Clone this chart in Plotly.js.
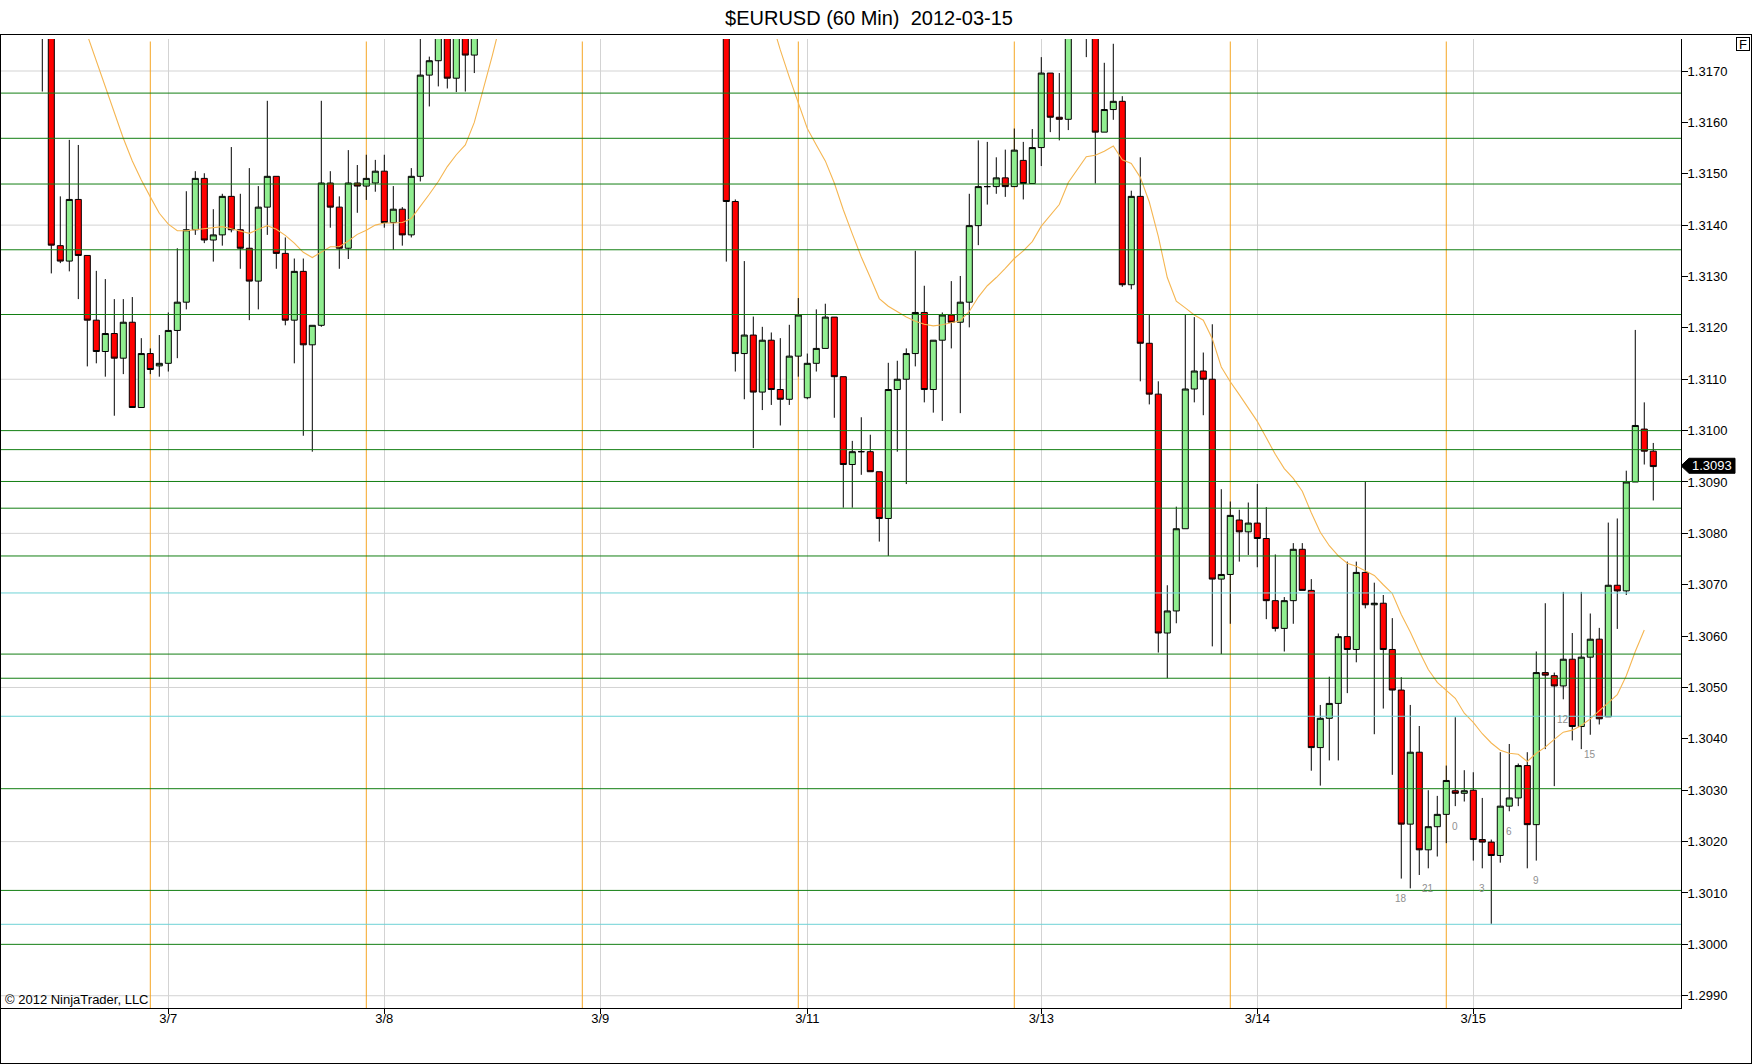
<!DOCTYPE html>
<html>
<head>
<meta charset="utf-8">
<script src="https://cdn.plot.ly/plotly-3.0.1.min.js"></script>
<style>
html,body{margin:0;padding:0;background:#ffffff;}
#chart{width:1752px;height:1064px;}
</style>
</head>
<body>
<div id="chart"></div>
<script>
// ---------------- DATA ----------------
const seg1Start = -14;   // bar slot of first candle of first block
const open1  = [1.31800,1.31795,1.31360,1.31330,1.31450,1.31341,1.31215,1.31154,1.31189,1.31141,1.31211,1.31045,1.31150,1.31126,1.31131,1.31195,1.31250,1.31391,1.31491,1.31371,1.31381,1.31456,1.31391,1.31355,1.31291,1.31435,1.31495,1.31345,1.31215,1.31310,1.31167,1.31205,1.31482,1.31435,1.31355,1.31482,1.31476,1.31482,1.31505,1.31405,1.31431,1.31381,1.31495,1.31692,1.31720,1.31790,1.31686,1.31785,1.31731];
const high1  = [1.31830,1.31810,1.31456,1.31566,1.31556,1.31341,1.31311,1.31295,1.31256,1.31256,1.31260,1.31180,1.31160,1.31186,1.31230,1.31355,1.31466,1.31505,1.31501,1.31431,1.31461,1.31552,1.31461,1.31511,1.31476,1.31642,1.31495,1.31376,1.31335,1.31335,1.31205,1.31642,1.31505,1.31456,1.31546,1.31517,1.31537,1.31527,1.31537,1.31476,1.31435,1.31511,1.31790,1.31728,1.31820,1.31820,1.31810,1.31810,1.31800];
const low1   = [1.31660,1.31306,1.31326,1.31310,1.31256,1.31125,1.31131,1.31105,1.31029,1.31110,1.31045,1.31045,1.31110,1.31105,1.31115,1.31141,1.31236,1.31381,1.31365,1.31329,1.31360,1.31386,1.31315,1.31215,1.31236,1.31381,1.31315,1.31205,1.31131,1.30990,1.30959,1.31202,1.31395,1.31315,1.31334,1.31424,1.31449,1.31465,1.31395,1.31352,1.31360,1.31376,1.31485,1.31631,1.31670,1.31666,1.31659,1.31660,1.31696];
const close1 = [1.31795,1.31361,1.31330,1.31450,1.31341,1.31215,1.31154,1.31189,1.31141,1.31211,1.31045,1.31150,1.31119,1.31131,1.31195,1.31250,1.31391,1.31491,1.31371,1.31381,1.31456,1.31391,1.31355,1.31291,1.31435,1.31495,1.31345,1.31215,1.31310,1.31167,1.31205,1.31482,1.31435,1.31355,1.31482,1.31476,1.31491,1.31505,1.31405,1.31431,1.31381,1.31495,1.31692,1.31720,1.31790,1.31686,1.31785,1.31731,1.31775];

const seg2Start = 62;    // bar slot of first candle of second block
const open2  = [1.31800,1.31446,1.31150,1.31186,1.31075,1.31176,1.31080,1.31061,1.31145,1.31064,1.31131,1.31160,1.31221,1.31105,1.30934,1.30959,1.30959,1.30920,1.30829,1.31080,1.31100,1.31150,1.31230,1.31080,1.31176,1.31225,1.31211,1.31250,1.31399,1.31475,1.31475,1.31492,1.31475,1.31526,1.31481,1.31551,1.31696,1.31610,1.31606,1.31780,1.31780,1.31790,1.31581,1.31625,1.31641,1.31284,1.31456,1.31170,1.31071,1.30606,1.30649,1.30809,1.31081,1.31116,1.31100,1.30711,1.30720,1.30826,1.30803,1.30820,1.30790,1.30669,1.30615,1.30669,1.30769,1.30689,1.30383,1.30440,1.30469,1.30599,1.30574,1.30724,1.30661,1.30664,1.30574,1.30495,1.30234,1.30374,1.30184,1.30229,1.30253,1.30299,1.30294,1.30300,1.30204,1.30199,1.30173,1.30269,1.30285,1.30348,1.30233,1.30529,1.30523,1.30503,1.30555,1.30424,1.30559,1.30594,1.30443,1.30699,1.30688,1.30900,1.31003,1.30960];
const high2  = [1.31820,1.31450,1.31330,1.31222,1.31202,1.31191,1.31180,1.31206,1.31258,1.31150,1.31236,1.31247,1.31221,1.31105,1.30980,1.31026,1.30992,1.30920,1.31132,1.31136,1.31160,1.31350,1.31282,1.31176,1.31230,1.31291,1.31301,1.31461,1.31565,1.31562,1.31532,1.31547,1.31588,1.31562,1.31587,1.31727,1.31696,1.31696,1.31800,1.31820,1.31820,1.31820,1.31716,1.31753,1.31651,1.31467,1.31532,1.31225,1.31096,1.30699,1.30852,1.31225,1.31221,1.31152,1.31207,1.30886,1.30862,1.30846,1.30860,1.30896,1.30851,1.30759,1.30676,1.30781,1.30781,1.30711,1.30466,1.30521,1.30605,1.30745,1.30745,1.30901,1.30704,1.30680,1.30635,1.30520,1.30466,1.30425,1.30300,1.30289,1.30348,1.30442,1.30339,1.30335,1.30285,1.30204,1.30374,1.30390,1.30352,1.30374,1.30570,1.30664,1.30529,1.30686,1.30606,1.30686,1.30644,1.30616,1.30821,1.30829,1.30922,1.31196,1.31055,1.30976];
const low2   = [1.31329,1.31115,1.31061,1.30966,1.31040,1.31050,1.31010,1.31050,1.31105,1.31061,1.31115,1.31160,1.31025,1.30850,1.30850,1.30914,1.30920,1.30784,1.30756,1.30959,1.30896,1.31125,1.31055,1.31035,1.31019,1.31160,1.31034,1.31201,1.31361,1.31440,1.31461,1.31455,1.31475,1.31450,1.31481,1.31515,1.31581,1.31565,1.31585,1.31764,1.31727,1.31481,1.31581,1.31605,1.31280,1.31275,1.31096,1.31051,1.30568,1.30518,1.30625,1.30809,1.31055,1.31030,1.30580,1.30565,1.30624,1.30745,1.30758,1.30734,1.30633,1.30609,1.30570,1.30624,1.30689,1.30338,1.30309,1.30358,1.30358,1.30489,1.30549,1.30654,1.30409,1.30459,1.30330,1.30128,1.30109,1.30135,1.30148,1.30171,1.30197,1.30269,1.30278,1.30163,1.30148,1.30040,1.30159,1.30259,1.30269,1.30148,1.30163,1.30380,1.30308,1.30477,1.30397,1.30380,1.30408,1.30428,1.30443,1.30614,1.30680,1.30900,1.30934,1.30864];
const close2 = [1.31446,1.31150,1.31186,1.31075,1.31176,1.31080,1.31061,1.31145,1.31225,1.31131,1.31160,1.31221,1.31105,1.30934,1.30959,1.30959,1.30920,1.30829,1.31080,1.31100,1.31150,1.31230,1.31080,1.31176,1.31225,1.31211,1.31250,1.31399,1.31475,1.31475,1.31492,1.31475,1.31546,1.31481,1.31551,1.31696,1.31610,1.31606,1.31780,1.31800,1.31800,1.31581,1.31625,1.31641,1.31284,1.31456,1.31170,1.31071,1.30606,1.30649,1.30809,1.31081,1.31116,1.31100,1.30711,1.30720,1.30835,1.30803,1.30820,1.30790,1.30669,1.30615,1.30669,1.30769,1.30689,1.30383,1.30440,1.30469,1.30599,1.30574,1.30724,1.30661,1.30664,1.30574,1.30495,1.30234,1.30374,1.30184,1.30229,1.30253,1.30319,1.30294,1.30299,1.30204,1.30199,1.30173,1.30269,1.30285,1.30348,1.30233,1.30529,1.30524,1.30503,1.30555,1.30424,1.30559,1.30594,1.30439,1.30699,1.30688,1.30900,1.31010,1.30960,1.30930];

// moving average as drawn
const ma1Start = -9;
const ma1 = [1.31770,1.31719,1.31670,1.31618,1.31569,1.31525,1.31488,1.31455,1.31423,1.31402,1.31389,1.31389,1.31391,1.31394,1.31396,1.31397,1.31393,1.31389,1.31384,1.31392,1.31399,1.31392,1.31380,1.31365,1.31347,1.31337,1.31348,1.31358,1.31358,1.31369,1.31382,1.31390,1.31400,1.31404,1.31404,1.31405,1.31413,1.31436,1.31460,1.31485,1.31514,1.31537,1.31556,1.31600,1.31663,1.31730,1.31800];
const ma2Start = 67;
const ma2 = [1.31800,1.31741,1.31688,1.31640,1.31588,1.31556,1.31525,1.31482,1.31430,1.31383,1.31338,1.31298,1.31257,1.31242,1.31231,1.31221,1.31213,1.31207,1.31204,1.31206,1.31210,1.31214,1.31232,1.31260,1.31282,1.31298,1.31316,1.31335,1.31350,1.31368,1.31398,1.31418,1.31440,1.31483,1.31509,1.31533,1.31536,1.31544,1.31554,1.31527,1.31520,1.31493,1.31445,1.31378,1.31298,1.31252,1.31239,1.31225,1.31215,1.31179,1.31124,1.31095,1.31070,1.31045,1.31018,1.30986,1.30954,1.30926,1.30907,1.30882,1.30840,1.30802,1.30776,1.30756,1.30742,1.30736,1.30727,1.30718,1.30700,1.30683,1.30642,1.30608,1.30570,1.30535,1.30510,1.30494,1.30479,1.30450,1.30432,1.30410,1.30392,1.30378,1.30372,1.30370,1.30356,1.30372,1.30384,1.30399,1.30413,1.30417,1.30426,1.30439,1.30455,1.30471,1.30486,1.30523,1.30570,1.30612];

const dateTickIdx  = [0, 24, 48, 71, 97, 121, 145];
const dateTickText = ['3/7', '3/8', '3/9', '3/11', '3/13', '3/14', '3/15'];
const sessionBreakIdx = [-2, 22, 46, 70, 94, 118, 142];
const priceTicks = [1.2990,1.3000,1.3010,1.3020,1.3030,1.3040,1.3050,1.3060,1.3070,1.3080,1.3090,1.3100,1.3110,1.3120,1.3130,1.3140,1.3150,1.3160,1.3170];
const gridLevels = [1.2990,1.3020,1.3050,1.3080,1.3110,1.3140,1.3170];
const greenLevels = [1.31657,1.31569,1.31480,1.31352,1.31226,1.31000,1.30963,1.30901,1.30849,1.30756,1.30565,1.30518,1.30303,1.30105,1.30000];
const cyanLevels = [1.30684,1.30444,1.30039];
const hourIdx  = [137, 140, 143, 146, 149, 152, 155, 158];
const hourText = ['18', '21', '0', '3', '6', '9', '12', '15'];

// ---------------- BUILD ----------------
const W = 1752, H = 1064;
const M = {l: 1, r: 71, t: 39, b: 56};
const plotW = W - M.l - M.r, plotH = H - M.t - M.b;
const X_RANGE = [-18.59, 168.08];
const Y_RANGE = [1.298761, 1.317623];
const FONT = 'Liberation Sans, Arial, sans-serif';

const px2paperX = px => (px - M.l) / plotW;
const py2paperY = py => (M.t + plotH - py) / plotH;
const price2py = p => M.t + plotH - (p - Y_RANGE[0]) / (Y_RANGE[1] - Y_RANGE[0]) * plotH;

const cx = [], co = [], ch = [], cl = [], cc = [];
open1.forEach((v, k) => { cx.push(seg1Start + k); co.push(v); ch.push(high1[k]); cl.push(low1[k]); cc.push(close1[k]); });
open2.forEach((v, k) => { cx.push(seg2Start + k); co.push(v); ch.push(high2[k]); cl.push(low2[k]); cc.push(close2[k]); });

const candles = {
  type: 'candlestick', x: cx, open: co, high: ch, low: cl, close: cc,
  increasing: {line: {color: '#000000', width: 1}, fillcolor: '#90EE90'},
  decreasing: {line: {color: '#000000', width: 1}, fillcolor: '#FF0000'},
  whiskerwidth: 0, hoverinfo: 'skip', showlegend: false
};
const maColor = '#F5B652';
const maTrace1 = {type: 'scatter', mode: 'lines', x: ma1.map((v, k) => ma1Start + k), y: ma1,
  line: {color: maColor, width: 1.1}, hoverinfo: 'skip', showlegend: false};
const maTrace2 = {type: 'scatter', mode: 'lines', x: ma2.map((v, k) => ma2Start + k), y: ma2,
  line: {color: maColor, width: 1.1}, hoverinfo: 'skip', showlegend: false};

const shapes = [];
gridLevels.forEach(lv => shapes.push({type: 'line', xref: 'paper', x0: 0, x1: 1, yref: 'y', y0: lv, y1: lv,
  line: {color: '#D3D3D3', width: 1}, layer: 'below'}));
sessionBreakIdx.forEach(ix => shapes.push({type: 'line', xref: 'x', x0: ix, x1: ix, yref: 'paper', y0: 0, y1: py2paperY(41.5),
  line: {color: '#F5A623', width: 1}, layer: 'below'}));
greenLevels.forEach(lv => shapes.push({type: 'line', xref: 'paper', x0: 0, x1: 1, yref: 'y', y0: lv, y1: lv,
  line: {color: '#137F13', width: 1}, layer: 'above'}));
cyanLevels.forEach(lv => shapes.push({type: 'line', xref: 'paper', x0: 0, x1: 1, yref: 'y', y0: lv, y1: lv,
  line: {color: '#6FD3D6', width: 1}, layer: 'above'}));

// outer frame
const frame = {color: '#000000', width: 1};
shapes.push({type: 'line', xref: 'paper', yref: 'paper', x0: px2paperX(0), x1: px2paperX(W), y0: py2paperY(34.5), y1: py2paperY(34.5), line: frame});
shapes.push({type: 'line', xref: 'paper', yref: 'paper', x0: px2paperX(0.5), x1: px2paperX(0.5), y0: py2paperY(34.5), y1: py2paperY(H), line: frame});
shapes.push({type: 'line', xref: 'paper', yref: 'paper', x0: px2paperX(W - 0.5), x1: px2paperX(W - 0.5), y0: py2paperY(34.5), y1: py2paperY(H), line: frame});
shapes.push({type: 'line', xref: 'paper', yref: 'paper', x0: px2paperX(0), x1: px2paperX(W), y0: py2paperY(H - 0.5), y1: py2paperY(H - 0.5), line: frame});

// last price tag
const lastPrice = close2[close2.length - 1];
const tagY = price2py(lastPrice) - 0.8;
const axX = M.l + plotW;
const tagPath = 'M ' + px2paperX(axX) + ' ' + py2paperY(tagY) +
  ' L ' + px2paperX(axX + 8) + ' ' + py2paperY(tagY - 7.5) +
  ' L ' + px2paperX(axX + 54) + ' ' + py2paperY(tagY - 7.5) +
  ' L ' + px2paperX(axX + 54) + ' ' + py2paperY(tagY + 7.5) +
  ' L ' + px2paperX(axX + 8) + ' ' + py2paperY(tagY + 7.5) + ' Z';
shapes.push({type: 'path', xref: 'paper', yref: 'paper', path: tagPath, fillcolor: '#000000', line: {color: '#000000', width: 1}, layer: 'above'});

const annotations = [];
annotations.push({xref: 'paper', yref: 'paper', x: px2paperX(axX + 31), y: py2paperY(tagY), text: lastPrice.toFixed(4),
  showarrow: false, xanchor: 'center', yanchor: 'middle', font: {family: FONT, size: 13, color: '#FFFFFF'}});
annotations.push({xref: 'paper', yref: 'paper', x: px2paperX(3), y: py2paperY(999.5), text: '\u00A9 2012 NinjaTrader, LLC',
  showarrow: false, xanchor: 'left', yanchor: 'middle', font: {family: FONT, size: 13, color: '#000000'}});
annotations.push({xref: 'paper', yref: 'paper', x: px2paperX(1742.5), y: py2paperY(43.5), text: 'F',
  showarrow: false, xanchor: 'center', yanchor: 'middle', width: 12, height: 12, borderpad: 0,
  bordercolor: '#000000', borderwidth: 1, bgcolor: '#FFFFFF', font: {family: FONT, size: 13, color: '#000000'}});
hourIdx.forEach((ix, k) => {
  annotations.push({xref: 'x', yref: 'y', x: ix, y: low2[ix - seg2Start], yshift: -20, text: hourText[k],
    showarrow: false, xanchor: 'center', yanchor: 'middle', font: {family: FONT, size: 10, color: '#8F8F8F'}});
});

const layout = {
  width: W, height: H,
  margin: M,
  paper_bgcolor: '#FFFFFF', plot_bgcolor: '#FFFFFF',
  showlegend: false,
  boxgap: 0.33, boxgroupgap: 0,
  title: {text: '$EURUSD (60 Min)  2012-03-15', font: {family: FONT, size: 20, color: '#000000'},
    xref: 'container', yref: 'container', x: 869 / W, xanchor: 'center', y: 1 - 17.5 / H, yanchor: 'middle'},
  xaxis: {
    range: X_RANGE, tickmode: 'array', tickvals: dateTickIdx, ticktext: dateTickText,
    showgrid: true, gridcolor: '#D3D3D3', gridwidth: 1, zeroline: false,
    showline: true, linecolor: '#000000', linewidth: 1,
    ticks: 'outside', ticklen: 5, tickcolor: '#000000', ticklabelstandoff: -7,
    tickfont: {family: FONT, size: 13, color: '#000000'},
    rangeslider: {visible: false}, fixedrange: true
  },
  yaxis: {
    side: 'right', range: Y_RANGE, tickmode: 'array', tickvals: priceTicks,
    ticktext: priceTicks.map(v => v.toFixed(4)),
    showgrid: false, zeroline: false,
    showline: true, linecolor: '#000000', linewidth: 1,
    ticks: 'outside', ticklen: 6, tickcolor: '#000000', ticklabelstandoff: -3,
    tickfont: {family: FONT, size: 13, color: '#000000'}, fixedrange: true
  },
  shapes: shapes,
  annotations: annotations
};

Plotly.newPlot('chart', [candles, maTrace1, maTrace2], layout, {staticPlot: true, displayModeBar: false});
</script>
</body>
</html>
